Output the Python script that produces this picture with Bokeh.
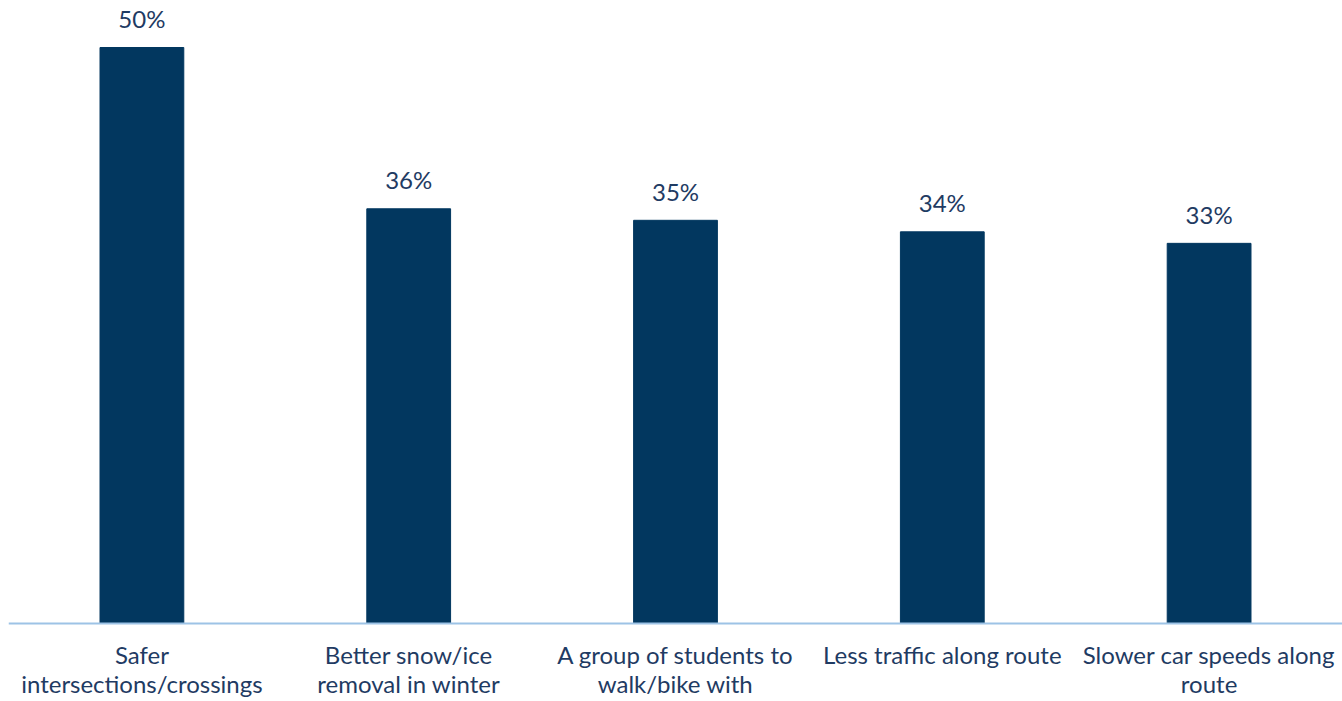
from bokeh.plotting import figure
from bokeh.models import ColumnDataSource, Range1d, FactorRange, Span
from bokeh.core.properties import value
from bokeh.embed import file_html
from bokeh.resources import INLINE

categories = [
    "Safer\nintersections/crossings",
    "Better snow/ice\nremoval in winter",
    "A group of students to\nwalk/bike with",
    "Less traffic along route",
    "Slower car speeds along\nroute",
]
values = [50, 36, 35, 34, 33]
labels = [f"{v}%" for v in values]

BAR = "#02375F"
TXT = "#1F3B63"
AXIS = "#9DC3E6"
FONT = "Lato"

src = ColumnDataSource(dict(cat=categories, val=values, lab=labels, zero=[0] * len(values)))

p = figure(x_range=FactorRange(*categories, range_padding=0), y_range=Range1d(-6.77, 54.08),
           width=1342, height=701, output_backend="svg", toolbar_location=None,
           min_border_left=8, min_border_right=0, min_border_top=0, min_border_bottom=0)

p.vbar(x="cat", top="val", width=0.314, source=src, fill_color=BAR, line_color=BAR)
p.add_layout(Span(location=0, dimension="width", line_color=AXIS, line_width=2))

p.text(x="cat", y="val", text="lab", source=src, text_align="center",
       text_baseline="alphabetic", y_offset=-29, text_color=TXT,
       text_font=value(FONT), text_font_size="24px")

# category labels below the baseline
p.text(x="cat", y="zero", text="cat", source=src, text_align="center",
       text_baseline="top", y_offset=16, text_color=TXT,
       text_font=value(FONT), text_font_size="24px", text_line_height=1.0)

p.xaxis.visible = False
p.yaxis.visible = False
p.grid.visible = False
p.outline_line_color = None

open("out.html", "w").write(file_html(p, INLINE))
